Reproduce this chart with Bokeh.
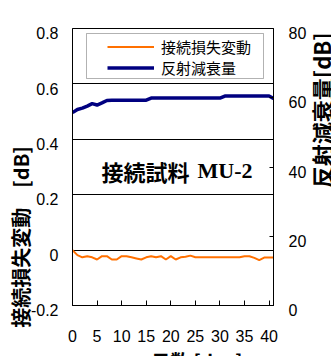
from math import pi
from bokeh.plotting import figure
from bokeh.models import (LinearAxis, Range1d, FixedTicker, Grid, Label,
                          BoxAnnotation, Legend, LegendItem)
from bokeh.embed import file_html
from bokeh.resources import INLINE

# ---------------- data ----------------
DAYS = [0, 1, 2, 3, 4, 5, 6, 7, 8, 9, 10, 11, 12, 13, 14, 15, 16, 17, 18, 19, 20,
        21, 22, 23, 24, 25, 26, 27, 28, 29, 30, 31, 32, 33, 34, 35, 36, 37, 38, 39, 40, 41]
LOSS_CHANGE_DB = [0.000, -0.018, -0.026, -0.022, -0.026, -0.034, -0.022, -0.022, -0.034, -0.034,
                  -0.022, -0.022, -0.026, -0.030, -0.034, -0.026, -0.022, -0.026, -0.022, -0.034,
                  -0.022, -0.034, -0.026, -0.024, -0.020, -0.026, -0.026, -0.026, -0.026, -0.026,
                  -0.026, -0.026, -0.026, -0.026, -0.026, -0.022, -0.022, -0.028, -0.036, -0.027,
                  -0.027, -0.027]
RETURN_LOSS_DB = [55.7, 56.6, 57.0, 57.6, 58.3, 57.9, 58.5, 59.2, 59.3, 59.3,
                  59.3, 59.3, 59.3, 59.3, 59.3, 59.3, 59.9, 59.9, 59.9, 59.9,
                  59.9, 59.9, 59.9, 59.9, 59.9, 59.9, 59.9, 59.9, 59.9, 59.9,
                  59.9, 60.5, 60.5, 60.5, 60.5, 60.5, 60.5, 60.5, 60.5, 60.5,
                  60.5, 59.7]

X_TICKS = [0, 5, 10, 15, 20, 25, 30, 35, 40]
X_TICK_LABELS = ["0", "5", "10", "15", "20", "25", "30", "35", "40"]
LEFT_TICKS = [-0.2, 0, 0.2, 0.4, 0.6, 0.8]
LEFT_TICK_LABELS = ["-0.2", "0", "0.2", "0.4", "0.6", "0.8"]
RIGHT_TICKS = [0, 20, 40, 60, 80]
RIGHT_TICK_LABELS = ["0", "20", "40", "60", "80"]

SERIES_NAMES = ["接続損失変動", "反射減衰量"]
LEFT_TITLE = "接続損失変動　[dB]"
RIGHT_TITLE = "反射減衰量[dB]"
X_TITLE = "日数 [day]"
SAMPLE_NAME = "接続試料"
SAMPLE_ID = "MU-2"

# ---------------- layout ----------------
FL, FT, FW, FH = 72, 28, 201, 277          # plot frame (px)
X_RANGE = (0, 40.9)
Y_RANGE = (-0.2, 0.8)
R_RANGE = (0, 80)
ORANGE = "#FF7000"
NAVY = "#000080"
TICK_FONT = "Liberation Sans"
CJK_FONT = "Noto Sans CJK JP"
IDEO_SPACE = "\u3000"
LABEL_LINE_HEIGHT = 0.615      # pushes tick labels ~5px below their ticks, as in the picture
X_TITLE_AT = 25.3              # x position (days) of the x title centre
RIGHT_TITLE_AT = 52.3          # right-axis anchor (dB) of the right title


def dx(px):
    return X_RANGE[0] + (px - FL) / FW * (X_RANGE[1] - X_RANGE[0])


def dy(py):
    return Y_RANGE[1] - (py - FT) / FH * (Y_RANGE[1] - Y_RANGE[0])


def set_standoff(axis, value, fallback=0):
    try:
        axis.axis_label_standoff = value
    except Exception:
        axis.axis_label_standoff = fallback


p = figure(frame_width=FW, frame_height=FH, x_range=X_RANGE, y_range=Y_RANGE,
           output_backend="svg", toolbar_location=None,
           min_border_left=FL, min_border_top=FT, min_border_right=10, min_border_bottom=10)
p.background_fill_color = "white"
p.border_fill_color = "white"
p.outline_line_color = "black"
p.outline_line_width = 1

# the reference picture is a crop of a larger chart: crop the page the same way
try:
    from bokeh.models import GlobalInlineStyleSheet
    p.stylesheets = [GlobalInlineStyleSheet(css="html, body { overflow: hidden !important; }")]
except Exception:
    pass

for g in p.grid:
    g.visible = False
p.add_layout(Grid(dimension=1, ticker=FixedTicker(ticks=LEFT_TICKS),
                  grid_line_color="black", grid_line_width=1))

p.extra_y_ranges = {"right": Range1d(*R_RANGE)}

# bottom axis
xa = p.xaxis[0]
xa.ticker = FixedTicker(ticks=X_TICKS)
xa.major_label_overrides = dict(zip(X_TICKS, X_TICK_LABELS))
xa.major_tick_in = 5
xa.major_tick_out = 0
xa.minor_tick_in = 0
xa.minor_tick_out = 0
xa.axis_line_color = "black"
xa.major_tick_line_color = "black"
xa.major_label_standoff = 24
xa.major_label_text_font = TICK_FONT
xa.major_label_text_font_size = "16px"
xa.major_label_text_color = "black"

# x title, drawn as the single label of a bare axis under the tick labels
xt = LinearAxis(ticker=FixedTicker(ticks=[X_TITLE_AT]),
                major_label_overrides={X_TITLE_AT: X_TITLE},
                major_tick_in=0, major_tick_out=0, minor_tick_in=0, minor_tick_out=0,
                axis_line_color=None, major_label_standoff=2,
                major_label_text_font=CJK_FONT, major_label_text_font_style="bold",
                major_label_text_font_size="19px", major_label_text_color="black")
p.add_layout(xt, "below")

# left axis
ya = p.yaxis[0]
ya.ticker = FixedTicker(ticks=LEFT_TICKS)
ya.major_label_overrides = {t: "\n" + s for t, s in zip(LEFT_TICKS, LEFT_TICK_LABELS)}
ya.major_label_text_line_height = LABEL_LINE_HEIGHT
ya.major_tick_in = 0
ya.major_tick_out = 0
ya.minor_tick_in = 0
ya.minor_tick_out = 0
ya.axis_line_color = "black"
ya.major_label_standoff = 14
ya.major_label_text_font = TICK_FONT
ya.major_label_text_font_size = "16px"
ya.major_label_text_color = "black"
ya.axis_label = LEFT_TITLE + IDEO_SPACE * 7
set_standoff(ya, -7)
ya.axis_label_text_font = CJK_FONT
ya.axis_label_text_font_style = "bold"
ya.axis_label_text_font_size = "20px"
ya.axis_label_text_color = "black"

# right axis
ra = LinearAxis(y_range_name="right", ticker=FixedTicker(ticks=RIGHT_TICKS),
                major_label_overrides={t: "\n" + s for t, s in zip(RIGHT_TICKS, RIGHT_TICK_LABELS)},
                major_label_text_line_height=LABEL_LINE_HEIGHT,
                major_tick_in=4, major_tick_out=0, minor_tick_in=0, minor_tick_out=0,
                axis_line_color="black", major_tick_line_color="black",
                major_label_standoff=15,
                major_label_text_font=TICK_FONT, major_label_text_font_size="16px",
                major_label_text_color="black")
p.add_layout(ra, "right")

# right title, drawn as the single (upward-reading) label of a bare axis
rt = LinearAxis(y_range_name="right", ticker=FixedTicker(ticks=[RIGHT_TITLE_AT]),
                major_label_overrides={RIGHT_TITLE_AT: RIGHT_TITLE},
                major_label_orientation=pi / 2,
                major_tick_in=0, major_tick_out=0, minor_tick_in=0, minor_tick_out=0,
                axis_line_color=None, major_label_standoff=12,
                major_label_text_font=CJK_FONT, major_label_text_font_style="bold",
                major_label_text_font_size="22px", major_label_text_color="black")
p.add_layout(rt, "right")

# data
r1 = p.line(DAYS, LOSS_CHANGE_DB, line_color=ORANGE, line_width=2)
r2 = p.line(DAYS, RETURN_LOSS_DB, line_color=NAVY, line_width=3.5, y_range_name="right")

# legend
p.add_layout(BoxAnnotation(left=dx(86), right=dx(263), top=dy(33), bottom=dy(78),
                           fill_color="white", fill_alpha=1, line_color="black",
                           line_width=1))
legend = Legend(items=[LegendItem(label=SERIES_NAMES[0], renderers=[r1]),
                       LegendItem(label=SERIES_NAMES[1], renderers=[r2])],
                location=(35, 227), padding=0, spacing=0, margin=0,
                border_line_color=None, background_fill_alpha=0,
                glyph_width=47, glyph_height=21, label_height=21, label_standoff=7,
                label_text_font=CJK_FONT, label_text_font_size="15px",
                label_text_color="black")
p.add_layout(legend)

# in-plot caption
p.add_layout(Label(x=dx(101), y=dy(170), text=SAMPLE_NAME, text_font=CJK_FONT,
                   text_font_style="bold", text_font_size="22px", text_align="left",
                   text_baseline="middle", text_color="black"))
p.add_layout(Label(x=dx(197), y=dy(170), text=SAMPLE_ID, text_font="Liberation Serif",
                   text_font_style="bold", text_font_size="22px", text_align="left",
                   text_baseline="middle", text_color="black"))

open("out.html", "w").write(file_html(p, INLINE))
